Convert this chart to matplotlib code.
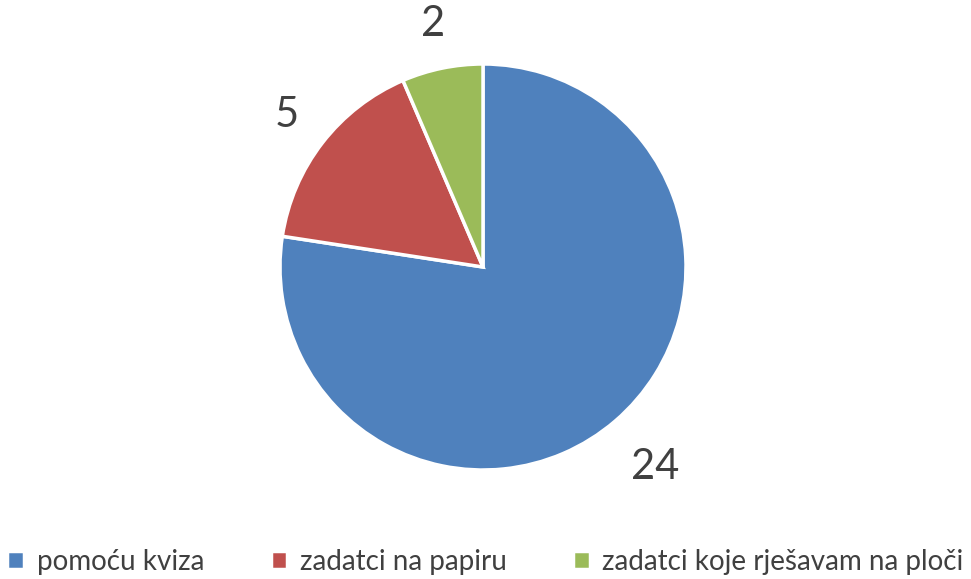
import matplotlib
matplotlib.use("Agg")
import matplotlib.pyplot as plt

# data
categories = ["pomoću kviza", "zadatci na papiru", "zadatci koje rješavam na ploči"]
values = [24, 5, 2]
colors = ["#4F81BD", "#C0504D", "#9BBB59"]

plt.rcParams['font.family'] = ['Lato', 'DejaVu Sans']

fig = plt.figure(figsize=(9.71, 5.79), dpi=100)
# pie centre ~ (483, 267) px, radius ~203 px
ax = fig.add_axes([(483 - 203) / 971, (312 - 203) / 579, 406 / 971, 406 / 579])

wedges, texts = ax.pie(values, colors=colors, startangle=90, counterclock=False,
                       labels=[str(v) for v in values], labeldistance=1.22,
                       wedgeprops=dict(edgecolor='white', linewidth=2.5),
                       textprops=dict(fontsize=30, color='#404040'))
for t in texts:
    t.set_ha('center')
    t.set_va('center')
# biggest slice label sits a bit further out
x, y = texts[0].get_position()
texts[0].set_position((x * 1.30 / 1.22, y * 1.30 / 1.22))

ax.set_xlim(-1, 1)
ax.set_ylim(-1, 1)
ax.set_aspect('equal')

fig.legend(wedges, categories, loc='center', bbox_to_anchor=(0.5, 17 / 579),
           ncol=3, frameon=False, fontsize=20, handlelength=0.6, handleheight=0.6,
           handletextpad=0.45, columnspacing=2.4, labelcolor='#404040')

fig.savefig("out.png", dpi=100)
